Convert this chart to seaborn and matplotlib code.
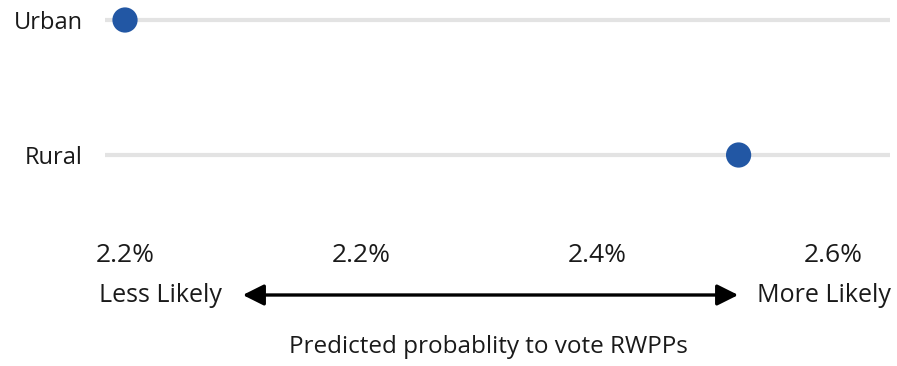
import matplotlib
matplotlib.use("Agg")
import matplotlib.pyplot as plt
import seaborn as sns
import pandas as pd

# Predicted probability (%) of voting for right-wing populist parties
areas = ["Urban", "Rural"]
probabilities = [2.0, 2.52]

tick_values = [2.0, 2.2, 2.4, 2.6]
tick_labels = ["2.2%", "2.2%", "2.4%", "2.6%"]

df = pd.DataFrame({"area": areas, "prob": probabilities})

sns.set_theme(style="white")
plt.rcParams["font.family"] = ["Open Sans", "DejaVu Sans"]

W, H = 897, 366
fig = plt.figure(figsize=(W / 100, H / 100), dpi=100)
ax = fig.add_axes([105 / W, 1 - 235 / H, (890 - 105) / W, 235 / H])

sns.scatterplot(data=df, x="prob", y="area", ax=ax, s=330, color="#2257a4",
                edgecolor="none", zorder=3, legend=False)

# light row guides behind each dot
for i in range(len(areas)):
    ax.axhline(i, color="#e3e3e3", lw=3, zorder=1)

step = tick_values[1] - tick_values[0]
ax.set_xlim(tick_values[0] - step * 20 / 236, tick_values[-1] + step * 57 / 236)
ax.set_ylim(1 + 80 / 135, -20 / 135)

ax.set_xticks(tick_values)
ax.set_xticklabels(tick_labels, fontsize=19, color="#1a1a1a")
ax.set_yticks(range(len(areas)))
ax.set_yticklabels(areas, fontsize=17, color="#1a1a1a")
ax.tick_params(axis="x", length=0, pad=6)
ax.tick_params(axis="y", length=0, pad=16)
ax.set_ylabel("")
ax.set_xlabel("Predicted probablity to vote RWPPs", fontsize=17.5, color="#1a1a1a")
ax.xaxis.set_label_coords(0.489, -0.425)
for s in ax.spines.values():
    s.set_visible(False)

# direction arrow between the two end labels
fig.text(222 / W, 1 - 295 / H, "Less Likely", ha="right", va="center",
         fontsize=18, color="#1a1a1a")
fig.text(757 / W, 1 - 295 / H, "More Likely", ha="left", va="center",
         fontsize=18, color="#1a1a1a")
fig.add_artist(matplotlib.patches.FancyArrowPatch(
    (240 / W, 1 - 295 / H), (741 / W, 1 - 295 / H), transform=fig.transFigure,
    arrowstyle="<|-|>", mutation_scale=32, lw=2.4, color="black"))

fig.savefig("out.png", dpi=100, facecolor="white")
